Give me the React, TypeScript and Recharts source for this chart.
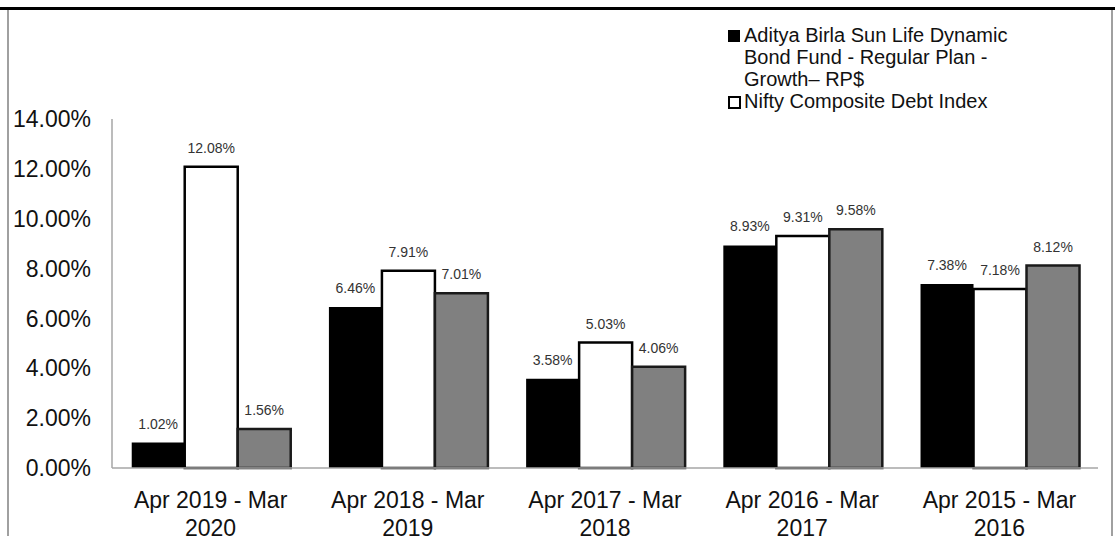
import React from 'react';
import { BarChart, Bar, XAxis, YAxis, LabelList, Legend } from 'recharts';

const categories = [
  'Apr 2019 - Mar 2020',
  'Apr 2018 - Mar 2019',
  'Apr 2017 - Mar 2018',
  'Apr 2016 - Mar 2017',
  'Apr 2015 - Mar 2016',
];
const fundReturns = [1.02, 6.46, 3.58, 8.93, 7.38];
const benchmarkReturns = [12.08, 7.91, 5.03, 9.31, 7.18];
const additionalBenchmarkReturns = [1.56, 7.01, 4.06, 9.58, 8.12];
const yTicks = [0, 2, 4, 6, 8, 10, 12, 14];
const fundName = 'Aditya Birla Sun Life Dynamic Bond Fund - Regular Plan - Growth\u2013 RP$';
const benchmarkName = 'Nifty Composite Debt Index';
const additionalName = 'Additional Benchmark';

const data = categories.map((c, i) => ({
  category: c,
  fund: fundReturns[i],
  benchmark: benchmarkReturns[i],
  additional: additionalBenchmarkReturns[i],
}));

const FONT = '"Liberation Sans", Arial, Helvetica, sans-serif';

const XTick = (props: any) => {
  const { x, y, payload } = props;
  const s: string = payload.value;
  const idx = s.lastIndexOf(' ');
  const l1 = s.slice(0, idx);
  const l2 = s.slice(idx + 1);
  return (
    <g>
      <text x={x} y={y + 38} textAnchor="middle" fontSize={23} fontFamily={FONT} fill="#111">
        {l1}
      </text>
      <text x={x} y={y + 66} textAnchor="middle" fontSize={23} fontFamily={FONT} fill="#111">
        {l2}
      </text>
    </g>
  );
};

const LegendContent = () => (
  <div style={{ fontFamily: FONT, fontSize: 20, lineHeight: '22px', color: '#111', textAlign: 'left' }}>
    <div style={{ display: 'flex', alignItems: 'flex-start' }}>
      <span style={{ display: 'inline-block', width: 12, height: 12, background: '#000', marginTop: 6, marginRight: 4, flex: 'none' }} />
      <span style={{ width: 290 }}>{fundName}</span>
    </div>
    <div style={{ display: 'flex', alignItems: 'flex-start' }}>
      <span style={{ display: 'inline-block', width: 9, height: 9, background: '#fff', border: '2px solid #000', marginTop: 6, marginRight: 3, flex: 'none' }} />
      <span>{benchmarkName}</span>
    </div>
  </div>
);

const fmt = (v: any) => `${Number(v).toFixed(2)}%`;

export default function App() {
  return (
    <div style={{ position: 'absolute', top: 0, left: 0, width: 1115, height: 536, background: '#fff', overflow: 'hidden' }}>
      <div style={{ position: 'absolute', top: 7, left: 0, width: 1115, height: 3, background: '#000' }} />
      <div style={{ position: 'absolute', top: 10, left: 7, width: 2, height: 526, background: '#a0a0a0' }} />
      <div style={{ position: 'absolute', top: 10, left: 1111, width: 2, height: 526, background: '#a0a0a0' }} />
      <BarChart
        width={1115}
        height={536}
        data={data}
        margin={{ top: 119, right: 17, bottom: 0, left: 0 }}
        barCategoryGap="10%"
        barGap={0}
        style={{ position: 'absolute', top: 0, left: 0 }}
      >
        <XAxis
          dataKey="category"
          axisLine={{ stroke: '#a6a6a6', strokeWidth: 1.5 }}
          tickLine={false}
          tickSize={0}
          tick={<XTick />}
          interval={0}
          height={68}
        />
        <YAxis
          width={112}
          domain={[0, 14]}
          ticks={yTicks}
          interval={0}
          tickFormatter={fmt}
          axisLine={{ stroke: '#a6a6a6', strokeWidth: 1.5 }}
          tickLine={false}
          tickSize={0}
          tickMargin={21}
          tick={{ fontSize: 23, fontFamily: FONT, fill: '#111' }}
        />
        <Legend
          layout="horizontal"
          verticalAlign="middle"
          align="center"
          content={<LegendContent />}
          wrapperStyle={{ top: 24, left: 728, width: 340 }}
        />
        <Bar dataKey="fund" name={fundName} fill="#000" isAnimationActive={false}>
          <LabelList dataKey="fund" position="top" offset={14} formatter={fmt} style={{ fontSize: 14, fontFamily: FONT, fill: '#333' }} />
        </Bar>
        <Bar dataKey="benchmark" name={benchmarkName} fill="#fff" stroke="#000" strokeWidth={2.5} isAnimationActive={false}>
          <LabelList dataKey="benchmark" position="top" offset={14} formatter={fmt} style={{ fontSize: 14, fontFamily: FONT, fill: '#333' }} />
        </Bar>
        <Bar dataKey="additional" name={additionalName} fill="#808080" stroke="#1a1a1a" strokeWidth={2.5} isAnimationActive={false}>
          <LabelList dataKey="additional" position="top" offset={14} formatter={fmt} style={{ fontSize: 14, fontFamily: FONT, fill: '#333' }} />
        </Bar>
      </BarChart>
    </div>
  );
}
